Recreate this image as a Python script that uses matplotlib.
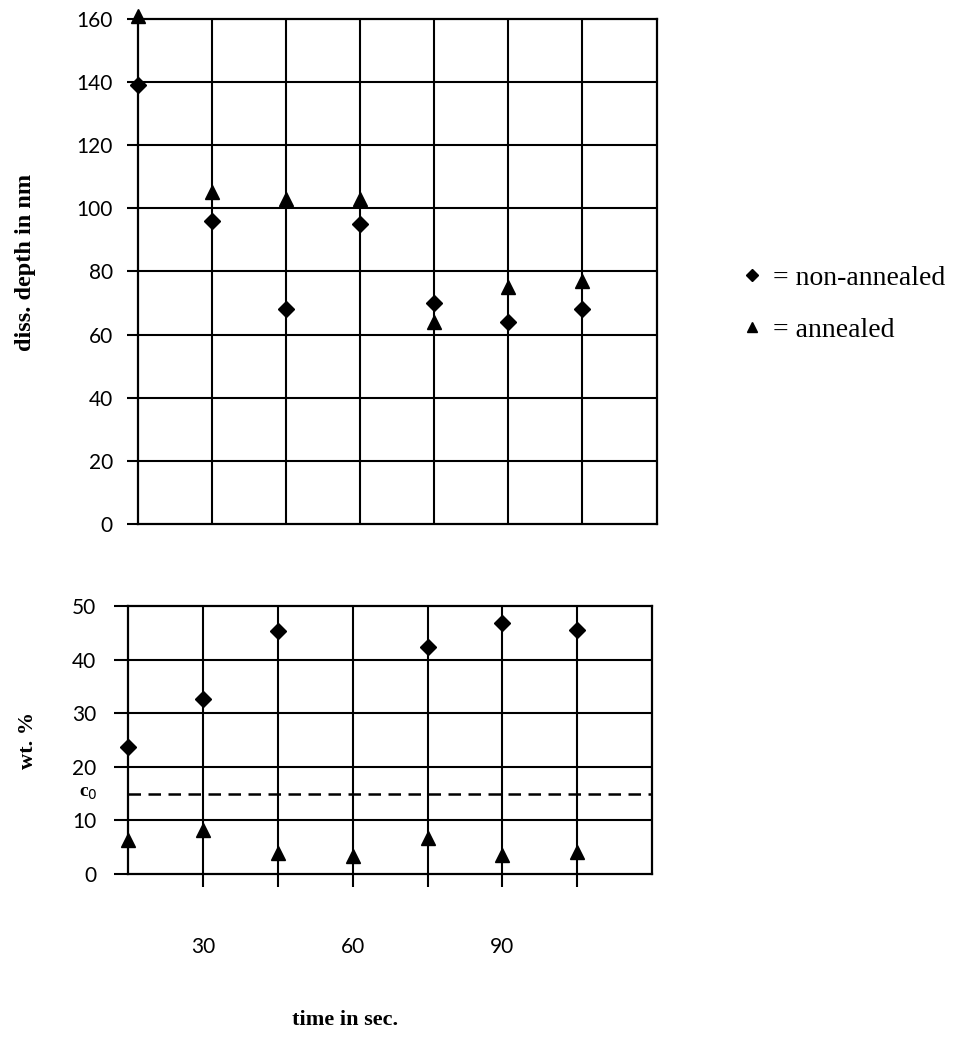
import numpy as np
import matplotlib.pyplot as plt

# ---------- DATA ----------
time_s = [15, 30, 45, 60, 75, 90, 105]

# dissolution depth (nm)
depth_non = [139, 96, 68, 95, 70, 64, 68]
depth_ann = [161, 105, 103, 103, 64, 75, 77]

# wt. % (no non-annealed point at 60 s)
wt_non = [23.7, 32.6, 45.3, np.nan, 42.4, 46.8, 45.5]
wt_ann = [6.3, 8.2, 3.9, 3.4, 6.7, 3.5, 4.1]
c0 = 15

x_ticks = [30, 60, 90]
depth_ticks = [0, 20, 40, 60, 80, 100, 120, 140, 160]
wt_ticks = [0, 10, 20, 30, 40, 50]

# ---------- FIGURE ----------
tick_font = "Lato"
serif = "Liberation Serif"

fig = plt.figure(figsize=(9.73, 10.46), dpi=100)
ax1 = fig.add_axes([0.1418, 0.499, 0.533, 0.483])
ax2 = fig.add_axes([0.1316, 0.1644, 0.5386, 0.2563])

grid_x = time_s[1:]

for ax in (ax1, ax2):
    ax.set_xlim(15, 120)
    for s in ax.spines.values():
        s.set_linewidth(1.6)
        s.set_color("black")
    for gx in grid_x:
        ax.axvline(gx, color="black", lw=1.5, zorder=1)

# ---------- TOP PANEL ----------
ax1.set_ylim(0, 160)
for gy in depth_ticks[1:-1]:
    ax1.axhline(gy, color="black", lw=1.5, zorder=1)
ax1.set_yticks(depth_ticks)
ax1.set_xticks([])
ax1.tick_params(axis="y", direction="out", length=8, width=1.5, pad=10,
                labelsize=15)
for lab in ax1.get_yticklabels():
    lab.set_family(tick_font)
h_non, = ax1.plot(time_s, depth_non, "D", color="black", ms=8.5,
                  linestyle="none", clip_on=False, zorder=3)
h_ann, = ax1.plot(time_s, depth_ann, "^", color="black", ms=9.5,
                  linestyle="none", clip_on=False, zorder=3)

# ---------- BOTTOM PANEL ----------
ax2.set_ylim(0, 50)
for gy in wt_ticks[1:-1]:
    ax2.axhline(gy, color="black", lw=1.5, zorder=1)
ax2.axhline(c0, color="black", lw=1.8, ls=(0, (5, 3)), zorder=2)
ax2.set_yticks(wt_ticks)
ax2.set_xticks(time_s[1:])
ax2.set_xticklabels([str(t) if t in x_ticks else "" for t in time_s[1:]])
ax2.tick_params(axis="y", direction="out", length=10, width=1.5, pad=13,
                labelsize=15)
ax2.tick_params(axis="x", direction="out", length=9, width=1.5, pad=36,
                labelsize=15)
for lab in ax2.get_yticklabels() + ax2.get_xticklabels():
    lab.set_family(tick_font)
ax2.text(-0.075, c0, "c$_0$", transform=ax2.get_yaxis_transform(),
         ha="center", va="center", fontsize=14, family=serif,
         fontweight="bold")
ax2.plot(time_s, wt_non, "D", color="black", ms=8.5, linestyle="none",
         clip_on=False, zorder=3)
ax2.plot(time_s, wt_ann, "^", color="black", ms=9.5, linestyle="none",
         clip_on=False, zorder=3)

# ---------- LABELS ----------
fig.text(0.026, 0.749, "diss. depth in nm", rotation=90, ha="center",
         va="center", fontsize=17.5, fontweight="bold", family=serif)
fig.text(0.029, 0.2925, "wt. %", rotation=90, ha="center", va="center",
         fontsize=16, fontweight="bold", family=serif)
fig.text(0.355, 0.025, "time in sec.", ha="center", va="center",
         fontsize=16, fontweight="bold", family=serif)

fig.legend([h_non, h_ann], ["= non-annealed", "= annealed"],
           loc="upper left", bbox_to_anchor=(0.740, 0.770), frameon=False,
           prop={"family": serif, "size": 20}, handlelength=0.5,
           handletextpad=0.5, labelspacing=0.95, markerscale=0.75)

plt.savefig("out.png", dpi=100)
